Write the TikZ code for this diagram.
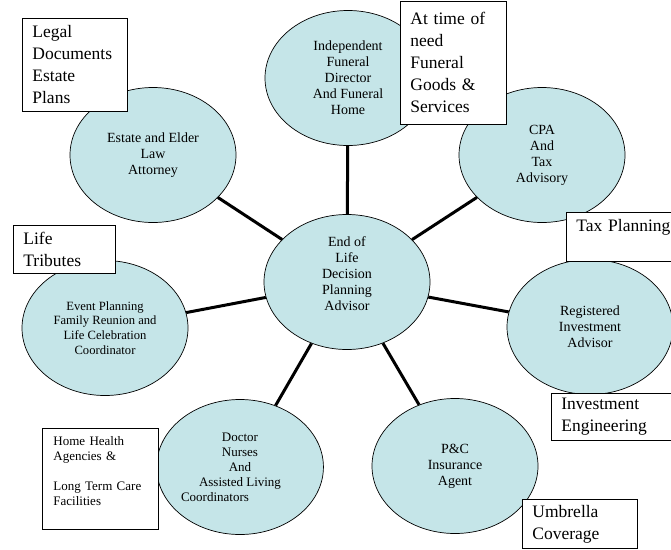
\documentclass[tikz,border=0pt]{standalone}
\usepackage{fontspec}
\setmainfont{Liberation Serif}
\usetikzlibrary{shapes.geometric,positioning}
\definecolor{bubblefill}{RGB}{197,229,232}
\tikzstyle{bubble} = [ellipse,draw,fill=bubblefill,line width=0.7pt,minimum width=166pt,minimum height=135pt,inner sep=0pt,align=center,font=\fontsize{14}{16}\selectfont]
\tikzstyle{note} = [rectangle,draw,fill=white,line width=0.8pt,anchor=north west,inner xsep=10pt,inner ysep=2pt,align=left,font=\fontsize{17.5}{22}\selectfont]
\tikzstyle{link} = [line width=3pt]

\begin{document}
\begin{tikzpicture}[x=1pt,y=-1pt]
    \useasboundingbox (0,0) rectangle (671,549);
    \clip (0,0) rectangle (671,549);
    % create the bubbles
    \node (hub) [bubble] at (347,282) {End of\\Life\\Decision\\Planning\\Advisor\\ \mbox{}};
    \node (funeral) [bubble] at (348,78) {Independent\\Funeral\\Director\\And Funeral\\Home};
    \node (estate) [bubble] at (153,155) {Estate and Elder\\Law\\Attorney};
    \node (cpa) [bubble] at (542,155) {CPA\\And\\Tax\\Advisory};
    \node (ria) [bubble] at (590,327) {Registered\\Investment\\Advisor};
    \node (insurance) [bubble] at (455,466) {P\&C\\Insurance\\Agent};
    \node (doctor) [bubble, font=\fontsize{13}{15}\selectfont] at (240,467) {Doctor\\Nurses\\And\\Assisted Living\\\makebox[118pt][l]{Coordinators}};
    \node (event) [bubble, font=\fontsize{12.6}{14.8}\selectfont] at (105,328) {Event Planning\\Family Reunion and\\Life Celebration\\Coordinator};
    % connect the bubbles
    \draw[link] (hub) -- (funeral);
    \draw[link] (hub) -- (estate);
    \draw[link] (hub) -- (cpa);
    \draw[link] (hub) -- (ria);
    \draw[link] (hub) -- (insurance);
    \draw[link] (hub) -- (doctor);
    \draw[link] (hub) -- (event);
    % the notes
    \node (legal) [note, text width=85pt, minimum height=93pt] at (22,18) {Legal\\Documents\\Estate\\Plans};
    \node (needs) [note, text width=86pt, minimum height=123pt] at (400,1) {At time of\\need\\Funeral\\Goods \&\\Services};
    \node (tax) [note, text width=110pt, minimum height=49pt] at (566,212) {Tax Planning\\ \mbox{}};
    \node (invest) [note, text width=110pt, minimum height=47pt] at (551,393) {Investment\\Engineering};
    \node (umbrella) [note, text width=95pt, minimum height=49pt] at (522,499) {Umbrella\\Coverage};
    \node (tributes) [note, text width=82pt, minimum height=48pt] at (13,225) {Life\\Tributes};
    \node (homecare) [note, font=\fontsize{13}{15}\selectfont, inner xsep=11pt, text width=94pt, minimum height=101pt] at (42,428) {Home Health\\Agencies \&\\ \mbox{}\\Long Term Care\\Facilities\\ \mbox{}};
\end{tikzpicture}
\end{document}
